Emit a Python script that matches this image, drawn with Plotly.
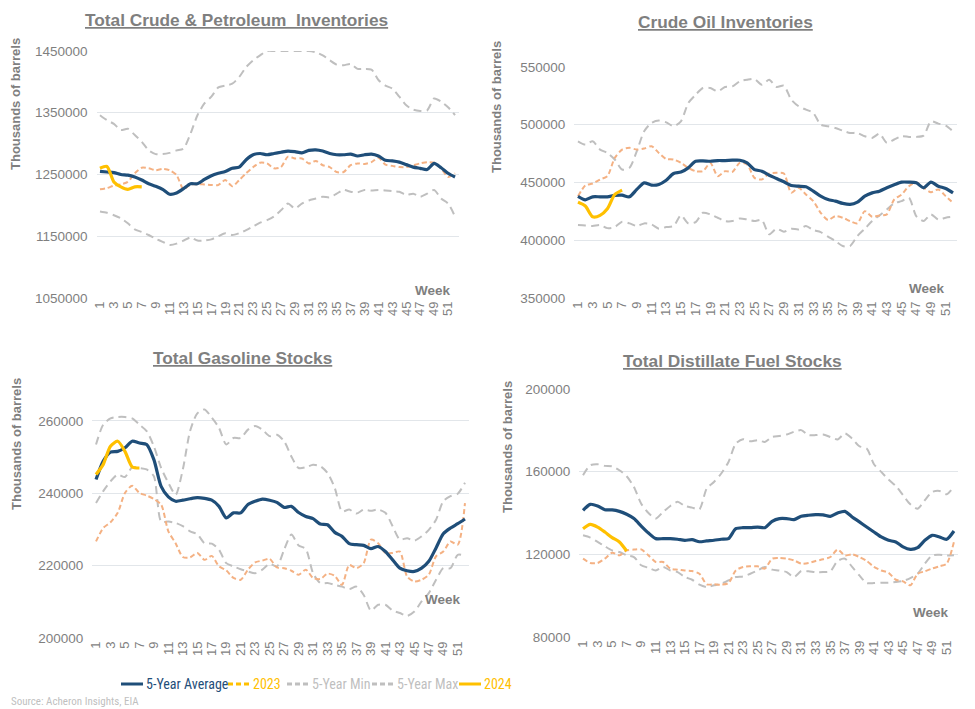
import plotly.graph_objects as go

weeks = list(range(1, 53))
tick_weeks = list(range(1, 53, 2))

# ---------------- Total Crude & Petroleum Inventories ----------------
tot_avg = [1255000,1254000,1253000,1250000,1249000,1246000,1241000,1235000,1231000,1226000,
           1218000,1220000,1227000,1235000,1235000,1242000,1248000,1252000,1255000,1260000,
           1262000,1274000,1282000,1284000,1282000,1284000,1286000,1288000,1287000,1285000,
           1289000,1290000,1288000,1284000,1282000,1282000,1283000,1280000,1282000,1283000,
           1280000,1273000,1272000,1270000,1266000,1262000,1260000,1258000,1268000,1261000,
           1252000,1246000]
tot_2023 = [1226000,1228000,1232000,1234000,1238000,1252000,1261000,1260000,1257000,1259000,
            1257000,1249000,1226000,1234000,1234000,1234000,1233000,1233000,1241000,1231000,
            1241000,1252000,1262000,1269000,1268000,1260000,1262000,1279000,1276000,1276000,
            1268000,1272000,1265000,1262000,1254000,1254000,1265000,1268000,1267000,1270000,
            1277000,1266000,1264000,1262000,1262000,1265000,1268000,1270000,1269000,1260000,
            1246000,1252000]
tot_min = [1190000,1188000,1184000,1179000,1171000,1161000,1157000,1152000,1146000,1141000,
           1136000,1138000,1143000,1148000,1143000,1143000,1145000,1150000,1155000,1152000,
           1155000,1160000,1166000,1172000,1176000,1182000,1192000,1203000,1195000,1203000,
           1208000,1211000,1214000,1213000,1219000,1225000,1222000,1221000,1225000,1224000,
           1225000,1224000,1223000,1222000,1217000,1219000,1214000,1219000,1225000,1211000,
           1203000,1182000]
tot_max = [1346000,1338000,1332000,1322000,1324000,1314000,1303000,1289000,1283000,1283000,
           1285000,1289000,1292000,1316000,1346000,1365000,1376000,1391000,1394000,1397000,
           1408000,1424000,1435000,1443000,1450000,1450000,1450000,1450000,1450000,1450000,
           1450000,1448000,1443000,1435000,1428000,1427000,1429000,1421000,1421000,1420000,
           1403000,1394000,1389000,1376000,1362000,1355000,1353000,1354000,1373000,1368000,
           1359000,1346000]
tot_2024 = [1260000,1263000,1238000,1230000,1226000,1230000,1230000]

# ---------------- Crude Oil Inventories ----------------
crd_avg = [438000,435000,437600,437600,437600,438800,439000,437600,444000,449700,
           447700,448300,452000,457800,459000,462700,468400,468700,468400,469000,
           469000,469300,469300,467000,461200,459800,456300,453500,450600,447400,
           446800,446300,442500,438200,435300,433900,431900,431000,433000,438200,
           441000,442500,445400,448000,450300,450300,449700,445400,450300,446800,
           444800,441000]
crd_2023 = [438000,447400,449100,452600,455500,471300,478500,480000,478500,479400,
            481400,475600,470400,469900,467000,462700,459800,459800,467000,455500,
            459800,459200,467000,465600,454000,452600,457800,458400,457800,441100,
            445400,439600,433900,423800,417500,420900,419500,416600,414600,425200,
            420300,421500,422400,435300,439600,446800,450300,445400,441600,444000,
            438200,432400]
crd_min = [413100,412800,412300,413100,410500,411400,416000,414600,412300,414600,
           413700,410000,411400,412300,421500,414600,415700,423800,422400,419500,
           416600,416600,418900,418000,416600,417500,405100,410000,407400,410000,
           409400,412300,408800,407100,403100,399300,395000,395000,403700,410000,
           416600,421500,426700,431900,433900,436700,420900,416600,422400,418000,
           419500,420300]
crd_max = [485700,482800,485700,478500,475600,469900,461200,462700,477100,494400,
           501600,503600,502100,498700,503000,518800,526000,531800,531800,528900,
           532700,533200,537600,539000,539600,534700,539000,532700,533800,521700,
           516000,513100,510200,500100,498700,497200,494900,492900,492900,490000,
           488600,492300,484300,487200,490000,489500,489500,490600,503000,501000,
           499200,494400]
crd_2024 = [433000,429600,420300,421500,427200,439600,443400]

# ---------------- Total Gasoline Stocks ----------------
gas_avg = [243800,248900,251400,251600,252600,254400,253900,253500,249300,241900,
           239000,237800,238100,238500,238800,238600,238100,236400,233200,234600,
           234600,236900,237800,238400,238100,237500,236100,236400,234700,233600,
           233000,231500,231300,229200,228100,226100,225800,225600,224700,225300,
           223900,221600,219300,218600,218400,219300,221200,224900,228800,230400,
           231600,232900]
gas_2023 = [226700,230400,232000,234600,240100,242100,240100,239400,238400,236900,
            229500,226200,222400,222300,223500,221600,222700,219800,218700,216600,
            216100,218900,220900,221400,221900,219500,219300,218600,217500,218900,
            216600,216300,217800,217200,214700,220200,219300,220700,227200,226200,
            223500,223500,223900,217000,215600,216100,217500,222600,223900,226700,
            225800,237300]
gas_min = [237300,240600,243300,245200,244500,247200,247000,246600,244700,232200,
           232200,231800,230900,229500,228700,226200,226100,224400,220700,219800,
           219000,218400,217900,218900,220500,219800,224400,228600,225600,224600,
           217900,215200,215200,214700,214200,213500,214200,211900,207600,209200,
           209200,207600,206900,206100,207300,210100,212400,216100,219300,219300,
           223000,222700]
gas_max = [253500,259000,260700,261100,261100,260700,259000,257200,253000,247000,
           242900,239600,246600,257200,262100,263200,260900,258100,253500,255300,
           255300,257600,258600,257600,255800,256200,254400,250200,247000,247200,
           247900,247500,245600,241500,235000,235500,234400,235500,235200,235500,
           234600,230900,227200,227600,226900,228100,229900,232700,237800,239200,
           239900,242900]
gas_2024 = [245200,248000,253000,254400,251600,247300,247000]

# ---------------- Total Distillate Fuel Stocks ----------------
dst_avg = [141300,144200,143400,141600,141500,140800,139400,137300,133700,130300,
           127600,127600,127600,127300,126800,127100,126100,126500,126800,127300,
           127600,132400,132900,132900,133200,132900,136000,137300,137300,136800,
           138400,138900,139200,139100,138400,140000,140800,138100,135700,133200,
           130800,128400,126800,126000,123600,122400,123200,126800,129200,128400,
           127300,131300]
dst_2023 = [117900,115800,115800,117900,120800,119500,121900,122300,122400,119500,
            116300,116300,113100,112600,112200,111900,110600,105500,105500,105300,
            106100,112200,113900,114200,114200,113100,117900,118200,117900,117100,
            115500,115800,116800,117600,118700,122300,119500,120000,118700,116800,
            113900,112200,111100,107700,106900,105000,110600,111800,113100,114200,
            115500,126000]
dst_min = [129200,128100,126000,123900,121900,121100,119500,118700,114700,113500,
           112200,113900,112200,111400,109000,107700,105300,104200,105000,105800,
           107400,109000,109300,110600,112200,113900,112600,112200,111400,109000,
           111900,111800,111400,111400,111800,116800,117900,113900,109800,106100,
           106100,106300,106300,106600,107100,108500,110600,115500,119500,119800,
           119500,119500]
dst_max = [158300,163100,163600,162800,162600,160700,157800,152600,144500,140000,
           137300,140500,143400,145400,143400,142600,141800,151800,155000,159100,
           164700,173600,175700,174700,175200,174400,176800,177300,178000,179300,
           180100,177700,177700,178000,176800,175600,178500,176000,172300,171200,
           163600,159900,156200,153100,148600,144200,142100,146200,150200,150700,
           149100,152900]
dst_2024 = [132400,134500,133200,130800,128100,126000,121600]

titles = ["Total Crude &amp; Petroleum  Inventories", "Crude Oil Inventories",
          "Total Gasoline Stocks", "Total Distillate Fuel Stocks"]
series_names = ["5-Year Average", "2023", "5-Year Min", "5-Year Max", "2024"]

NAVY = "#1F4E79"
PEACH = "#F4B183"
GRAY = "#BFBFBF"
GOLD = "#FFC000"
TXT = "#7F7F7F"
GRID = "#E2E6EA"
FONT = "Liberation Sans, Arial, sans-serif"
NARROW = "Liberation Sans Narrow, Arial Narrow, Roboto Condensed, Liberation Sans, sans-serif"
GRAY_DASH = "8px,5px"
PEACH_DASH = "5px,3px"
LEG_DASH = "5px,3px"

# The page places the figure 8px from the top-left corner of the window,
# so the figure is 8px smaller and all window-pixel positions are shifted by 8.
OFF = 8
W, H = 975 - OFF, 709 - OFF


def px(x):
    return (x - OFF) / W


def py(y):
    return 1 - (y - OFF) / H


# plot boxes in window pixels: left, right, top, bottom
panels = [
    dict(avg=tot_avg, y23=tot_2023, mn=tot_min, mx=tot_max, y24=tot_2024,
         box=(96.5, 458.5, 51, 298), yr=[1050000, 1450000], dt=100000,
         title_xy=(236, 20), ylab_xy=(16, 104), week_xy=(0.93, 0.032)),
    dict(avg=crd_avg, y23=crd_2023, mn=crd_min, mx=crd_max, y24=crd_2024,
         box=(574.3, 956.7, 67, 298), yr=[350000, 550000], dt=50000,
         title_xy=(725, 22), ylab_xy=(496, 107), week_xy=(0.922, 0.039)),
    dict(avg=gas_avg, y23=gas_2023, mn=gas_min, mx=gas_max, y24=gas_2024,
         box=(92.4, 468.6, 384.8, 638), yr=[200000, 270000], dt=20000,
         title_xy=(242, 358), ylab_xy=(17, 444), week_xy=(0.932, 0.154)),
    dict(avg=dst_avg, y23=dst_2023, mn=dst_min, mx=dst_max, y24=dst_2024,
         box=(579.4, 957.6, 389, 637), yr=[80000, 200000], dt=40000,
         title_xy=(732, 361), ylab_xy=(507, 447), week_xy=(0.93, 0.097)),
]

fig = go.Figure()
annotations = []
shapes = []
layout_axes = {}

for i, p in enumerate(panels):
    n = i + 1
    xa = "x" if n == 1 else f"x{n}"
    ya = "y" if n == 1 else f"y{n}"
    specs = [
        (p["mx"], GRAY, 2, GRAY_DASH, series_names[3]),
        (p["mn"], GRAY, 2, GRAY_DASH, series_names[2]),
        (p["y23"], PEACH, 2, PEACH_DASH, series_names[1]),
        (p["avg"], NAVY, 3.2, "solid", series_names[0]),
        (p["y24"], GOLD, 3.2, "solid", series_names[4]),
    ]
    for vals, col, w, dash, nm in specs:
        fig.add_trace(go.Scatter(x=weeks[:len(vals)], y=vals, mode="lines", xaxis=xa, yaxis=ya,
                                 name=nm,
                                 line=dict(color=col, width=w, dash=dash, shape="spline", smoothing=0.7),
                                 showlegend=False, hoverinfo="skip"))

    l, r, t, b = p["box"]
    xkey = "xaxis" if n == 1 else f"xaxis{n}"
    ykey = "yaxis" if n == 1 else f"yaxis{n}"
    layout_axes[xkey] = dict(domain=[px(l), px(r)], anchor=ya, range=[0.5, 52.5], tickmode="array",
                             tickvals=tick_weeks, ticktext=[str(t) for t in tick_weeks],
                             tickangle=-90, showgrid=False, zeroline=False, showline=False,
                             ticks="", automargin=False,
                             tickfont=dict(family=FONT, size=13, color=TXT))
    layout_axes[ykey] = dict(domain=[py(b), py(t)], anchor=xa, range=p["yr"], dtick=p["dt"],
                             tick0=p["yr"][0], tickformat="d", showgrid=True, gridcolor=GRID,
                             gridwidth=1, zeroline=False, showline=False, ticks="",
                             automargin=False, ticklabelstandoff=8,
                             tickfont=dict(family=FONT, size=13.5, color=TXT))

    tx, ty = p["title_xy"]
    annotations.append(dict(text=f"<b><u>{titles[i]}</u></b>", x=px(tx), y=py(ty),
                            xref="paper", yref="paper", showarrow=False, xanchor="center",
                            yanchor="middle", font=dict(family=FONT, size=17.3, color=TXT)))
    lx, ly = p["ylab_xy"]
    annotations.append(dict(text="<b>Thousands of barrels</b>", x=px(lx), y=py(ly),
                            xref="paper", yref="paper", showarrow=False, textangle=-90,
                            xanchor="center", yanchor="middle",
                            font=dict(family=FONT, size=13, color=TXT)))
    wx, wy = p["week_xy"]
    annotations.append(dict(text="<b>Week</b>", x=wx, y=wy, xref=f"{xa} domain", yref=f"{ya} domain",
                            showarrow=False, xanchor="center", yanchor="middle",
                            font=dict(family=FONT, size=13.5, color=TXT)))

# Legend (line samples + coloured labels, positioned like the original)
legend_items = [
    (series_names[0], NAVY, "solid", 121, 143, NAVY),
    (series_names[1], GOLD, LEG_DASH, 228, 250, GOLD),
    (series_names[2], GRAY, LEG_DASH, 287, 309, GRAY),
    (series_names[3], GRAY, LEG_DASH, 372, 394, GRAY),
    (series_names[4], GOLD, "solid", 459, 481, GOLD),
]
LEG_Y = 684
for name, col, dash, x0, x1, tcol in legend_items:
    shapes.append(dict(type="line", xref="paper", yref="paper", x0=px(x0), x1=px(x1),
                       y0=py(LEG_Y), y1=py(LEG_Y),
                       line=dict(color=col, width=3, dash=dash)))
    annotations.append(dict(text=name, x=px(x1 + 0.5), y=py(LEG_Y), xref="paper", yref="paper",
                            showarrow=False, xanchor="left", yanchor="middle",
                            font=dict(family=NARROW, size=14, color=tcol)))

annotations.append(dict(text="Source: Acheron Insights, EIA", x=px(9), y=py(701), xref="paper",
                        yref="paper", showarrow=False, xanchor="left", yanchor="middle",
                        font=dict(family=NARROW, size=11, color="#BFBFBF")))

fig.update_layout(
    width=W, height=H, margin=dict(l=0, r=0, t=0, b=0, autoexpand=False),
    paper_bgcolor="white", plot_bgcolor="white",
    showlegend=False,
    annotations=annotations,
    shapes=shapes,
    **layout_axes,
)

fig.write_html("out.html")
